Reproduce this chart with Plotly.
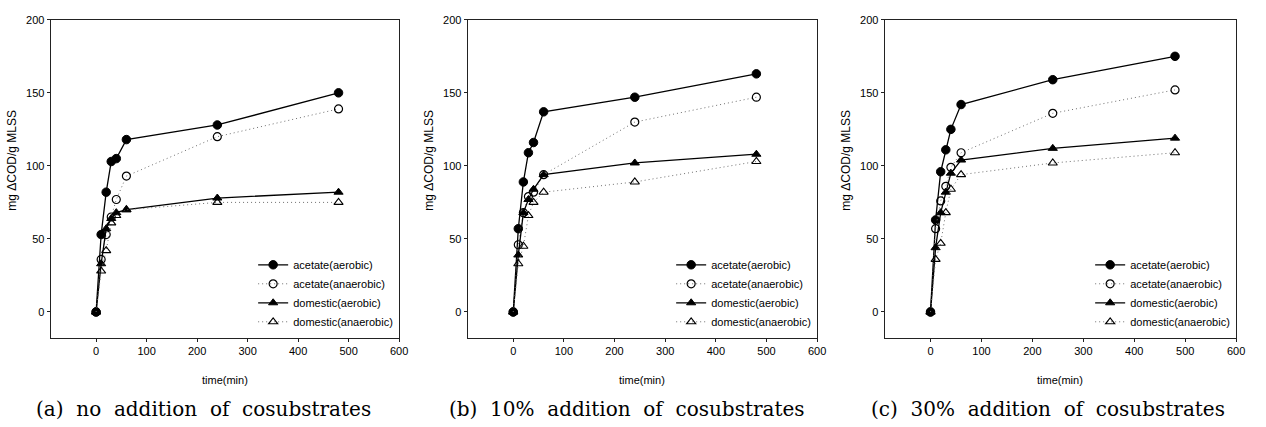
import plotly.graph_objects as go

W, H = 1266, 427

time_min = [0, 10, 20, 30, 40, 60, 240, 480]

# panel (a) no addition
a_acet_aer = [0, 53, 82, 103, 105, 118, 128, 150]
a_acet_ana = [0, 36, 53, 65, 77, 93, 120, 139]
a_dom_aer = [0, 33, 57, 64, 68, 70, 78, 82]
a_dom_ana = [0, 28, 42, 61, 66, 70, 75, 75]

# panel (b) 10% addition
b_acet_aer = [0, 57, 89, 109, 116, 137, 147, 163]
b_acet_ana = [0, 46, 68, 79, 82, 94, 130, 147]
b_dom_aer = [0, 39, 68, 77, 84, 94, 102, 108]
b_dom_ana = [0, 33, 45, 66, 75, 82, 89, 103]

# panel (c) 30% addition
c_acet_aer = [0, 63, 96, 111, 125, 142, 159, 175]
c_acet_ana = [0, 57, 76, 86, 99, 109, 136, 152]
c_dom_aer = [0, 44, 68, 82, 95, 104, 112, 119]
c_dom_ana = [0, 36, 47, 68, 84, 94, 102, 109]

series_names = ["acetate(aerobic)", "acetate(anaerobic)", "domestic(aerobic)", "domestic(anaerobic)"]
panels = [
    [a_acet_aer, a_acet_ana, a_dom_aer, a_dom_ana],
    [b_acet_aer, b_acet_ana, b_dom_aer, b_dom_ana],
    [c_acet_aer, c_acet_ana, c_dom_aer, c_dom_ana],
]
captions = ["(a) no addition of cosubstrates",
            "(b) 10% addition of cosubstrates",
            "(c) 30% addition of cosubstrates"]
y_title = "mg \u0394COD/g MLSS"
x_title = "time(min)"
y_ticks = [0, 50, 100, 150, 200]
x_ticks = [0, 100, 200, 300, 400, 500, 600]

# pixel layout of the three plot frames
frames_x = [(51, 402), (471, 823), (891, 1245)]
caption_cx = [205, 631, 1056]
frame_top, frame_bot = 14, 337

dotted = "1px,3px"
styles = [
    dict(line=dict(color="black", width=1.3, dash="solid"),
         marker=dict(symbol="circle", size=8.5, color="black", line=dict(color="black", width=1))),
    dict(line=dict(color="#6f6f6f", width=1, dash=dotted),
         marker=dict(symbol="circle-open", size=8, color="black", line=dict(color="black", width=1.2))),
    dict(line=dict(color="black", width=1.3, dash="solid"),
         marker=dict(symbol="triangle-up", size=8, color="black", line=dict(color="black", width=1))),
    dict(line=dict(color="#6f6f6f", width=1, dash=dotted),
         marker=dict(symbol="triangle-up-open", size=8, color="black", line=dict(color="black", width=1.1))),
]

tick_font = dict(family="Liberation Sans Narrow, Arial Narrow, Liberation Sans, Arial", size=11, color="black")
leg_font = dict(family="Liberation Sans Narrow, Arial Narrow, Liberation Sans, Arial", size=11, color="black")

fig = go.Figure()
layout = dict(
    width=W, height=H,
    margin=dict(l=0, r=0, t=0, b=0),
    paper_bgcolor="white", plot_bgcolor="white",
    showlegend=True,
    annotations=[],
)

def py(pix):
    return 1 - pix / H

for i, (data, (x0, x1)) in enumerate(zip(panels, frames_x)):
    xa = "x" if i == 0 else f"x{i+1}"
    ya = "y" if i == 0 else f"y{i+1}"
    leg = "legend" if i == 0 else f"legend{i+1}"
    for name, vals, st in zip(series_names, data, styles):
        fig.add_trace(go.Scatter(
            x=time_min, y=vals, name=name, mode="lines+markers",
            xaxis=xa, yaxis=ya, legend=leg,
            line=st["line"], marker=st["marker"],
        ))
    axis_common = dict(
        showgrid=False, zeroline=False, showline=True, linecolor="#222", linewidth=1,
        mirror=True, ticks="outside", ticklen=3, tickwidth=1, tickcolor="#222",
        tickfont=tick_font,
    )
    layout["xaxis" if i == 0 else f"xaxis{i+1}"] = dict(
        axis_common, domain=[x0 / W, x1 / W], range=[-90, 600],
        tickvals=x_ticks, anchor=ya,
    )
    layout["yaxis" if i == 0 else f"yaxis{i+1}"] = dict(
        axis_common, domain=[py(frame_bot), py(frame_top)], range=[-18, 200],
        tickvals=y_ticks, anchor=xa,
    )
    layout[leg] = dict(
        x=(x1 - 1) / W, y=py(335), xanchor="right", yanchor="bottom",
        xref="paper", yref="paper", bgcolor="rgba(0,0,0,0)", borderwidth=0,
        font=leg_font, tracegroupgap=0, itemwidth=30,
    )
    cx = (x0 + x1) / 2
    layout["annotations"].append(dict(
        text=x_title, x=cx / W, y=py(379), xref="paper", yref="paper",
        xanchor="center", yanchor="middle", showarrow=False, font=tick_font,
    ))
    layout["annotations"].append(dict(
        text=y_title, x=(x0 - 39) / W, y=py(156), xref="paper", yref="paper",
        xanchor="center", yanchor="middle", showarrow=False, textangle=-90,
        font=dict(family="Liberation Sans, Arial", size=12, color="black"),
    ))
    layout["annotations"].append(dict(
        text=captions[i].replace(" ", "\u00a0\u00a0"), x=caption_cx[i] / W, y=py(409),
        xref="paper", yref="paper",
        xanchor="center", yanchor="middle", showarrow=False,
        font=dict(family="DejaVu Serif, Liberation Serif, serif", size=20, color="black"),
    ))

fig.update_layout(**layout)
fig.write_html("out.html")
